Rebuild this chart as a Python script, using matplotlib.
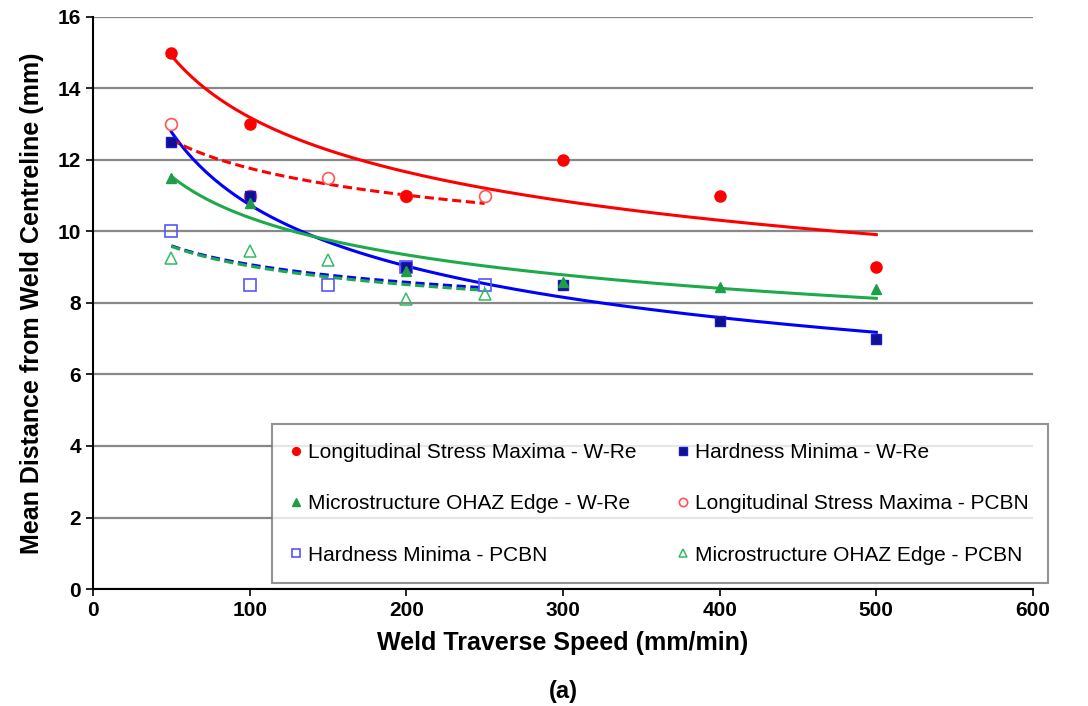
import numpy as np
import matplotlib
matplotlib.use("Agg")
import matplotlib.pyplot as plt

plt.rcParams['font.family'] = ['Liberation Sans Narrow', 'Liberation Sans', 'DejaVu Sans']

# W-Re tool data
speed_wre = [50, 100, 200, 300, 400, 500]
stress_wre = [15, 13, 11, 12, 11, 9]
hard_wre = [12.5, 11, 9, 8.5, 7.5, 7]
micro_wre = [11.5, 10.8, 8.9, 8.6, 8.45, 8.38]

# PCBN tool data
speed_pcbn = [50, 100, 150, 200, 250]
stress_pcbn = [13, 11, 11.5, 11, 11]
hard_pcbn = [10, 8.5, 8.5, 9, 8.5]
micro_pcbn = [9.25, 9.45, 9.2, 8.1, 8.25]

labels = ['Longitudinal Stress Maxima - W-Re', 'Hardness Minima - W-Re',
          'Microstructure OHAZ Edge - W-Re', 'Longitudinal Stress Maxima - PCBN',
          'Hardness Minima - PCBN', 'Microstructure OHAZ Edge - PCBN']


def power_fit(x, y):
    # Excel style power trendline: y = a * x^b
    b, lna = np.polyfit(np.log(x), np.log(y), 1)
    xs = np.linspace(min(x), max(x), 200)
    return xs, np.exp(lna) * xs ** b


fig = plt.figure(figsize=(10.88, 7.06), dpi=100)
ax = fig.add_axes([0.0855, 0.1657, 0.8639, 0.8103])

red, blue, green = '#FF0000', '#0000FF', '#1EAA4A'

# trend lines
for x, y, c, ls in [(speed_wre, stress_wre, red, '-'),
                    (speed_wre, hard_wre, blue, '-'),
                    (speed_wre, micro_wre, green, '-'),
                    (speed_pcbn, stress_pcbn, red, '--'),
                    (speed_pcbn, hard_pcbn, blue, '--'),
                    (speed_pcbn, micro_pcbn, green, '--')]:
    xs, ys = power_fit(x, y)
    ax.plot(xs, ys, color=c, ls=ls, lw=2.2, dashes=(3, 1.5) if ls == '--' else (None, None), zorder=2)

h1, = ax.plot(speed_wre, stress_wre, 'o', color=red, ms=8, ls='none', zorder=4)
h2, = ax.plot(speed_wre, hard_wre, 's', mfc='#101090', mec='#1a1acc', ms=7.5, ls='none', zorder=4)
h3, = ax.plot(speed_wre, micro_wre, '^', color='#1E9E48', ms=7.5, ls='none', zorder=4)
h4, = ax.plot(speed_pcbn, stress_pcbn, 'o', mfc='white', mec='#FF5555', mew=1.2, ms=8.5, ls='none', zorder=3)
h5, = ax.plot(speed_pcbn, hard_pcbn, 's', mfc='none', mec='#5555FF', mew=1.2, ms=9, ls='none', zorder=3)
h6, = ax.plot(speed_pcbn, micro_pcbn, '^', mfc='none', mec='#33BB66', mew=1.1, ms=9, ls='none', zorder=3)

ax.set_xlim(0, 600)
ax.set_ylim(0, 16)
ax.set_xticks(range(0, 601, 100))
ax.set_yticks(range(0, 17, 2))
ax.yaxis.grid(True, color='#888888', lw=1.6)
ax.set_axisbelow(True)
for s in ['top', 'right']:
    ax.spines[s].set_visible(False)
for s in ['left', 'bottom']:
    ax.spines[s].set_linewidth(1.5)
ax.tick_params(axis='both', labelsize=15, width=1.2, length=5, direction='out')
for lab in ax.get_xticklabels() + ax.get_yticklabels():
    lab.set_fontweight('bold')

ax.set_xlabel('Weld Traverse Speed (mm/min)', fontsize=18, fontweight='bold', labelpad=8)
ax.set_ylabel('Mean Distance from Weld Centreline (mm)', fontsize=18, fontweight='bold', labelpad=10)
fig.text(0.5 * (0.0855 + 0.9494), 0.012, '(a)', fontsize=17, fontweight='bold', ha='center')

handles = [h1, h3, h5, h2, h4, h6]
labs = [labels[0], labels[2], labels[4], labels[1], labels[3], labels[5]]
leg = ax.legend(handles, labs, ncol=2, loc='lower left',
                bbox_to_anchor=(0.19, 0.01, 0.826, 0.285), mode='expand',
                fontsize=15, frameon=True, fancybox=False, markerscale=0.7,
                handlelength=0.5, handletextpad=0.35, labelspacing=1.55,
                borderaxespad=0, columnspacing=0.8, borderpad=0.9)
leg.get_frame().set_edgecolor('#777777')
leg.get_frame().set_linewidth(1.5)

fig.savefig('out.png', dpi=100)
